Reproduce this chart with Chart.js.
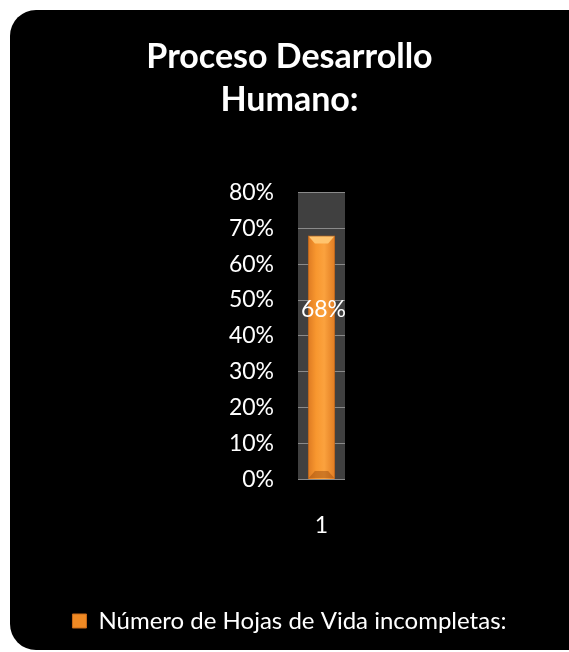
<!DOCTYPE html>
<html>
<head>
<meta charset="utf-8">
<script src="https://cdn.jsdelivr.net/npm/chart.js@4"></script>
<style>
  html, body { margin: 0; padding: 0; background: #fff; overflow: hidden; }
  #card {
    position: absolute; left: 10px; top: 10px;
    width: 590px; height: 640px;
    background: #000; border-radius: 26px; overflow: hidden;
  }
  #chart { position: absolute; left: 0; top: 0; }
</style>
</head>
<body>
<div id="card"><canvas id="chart" width="559" height="640"></canvas></div>
<script>
"use strict";

// ========== DATA ========== //
const categories = ['1'];
const seriesLabel = 'Número de Hojas de Vida incompletas:';
const seriesValues = [68]; // percent
const yMin = 0;
const yMax = 80;
const yStep = 10;

const FONT = 'Lato, "Open Sans", sans-serif';

// gray plot background
const plotBackground = {
  id: 'plotBackground',
  beforeDraw(chart) {
    let {ctx, chartArea: a} = chart;
    ctx.save();
    ctx.fillStyle = '#404040';
    ctx.fillRect(a.left, a.top, a.right - a.left, a.bottom - a.top);
    ctx.restore();
  }
};

// bevel on the bar top + value label
const valueLabel = {
  id: 'valueLabel',
  afterDatasetsDraw(chart) {
    let ctx = chart.ctx;
    let meta = chart.getDatasetMeta(0);
    ctx.save();
    meta.data.forEach((bar, i) => {
      let l = bar.x - bar.width / 2, r = bar.x + bar.width / 2;
      // light chamfer at the top of the bar
      ctx.fillStyle = '#FFC46E';
      ctx.beginPath();
      ctx.moveTo(l + 1, bar.y + 1);
      ctx.lineTo(r - 1, bar.y + 1);
      ctx.lineTo(r - 7, bar.y + 8);
      ctx.lineTo(l + 7, bar.y + 8);
      ctx.closePath();
      ctx.fill();
      // darker chamfer at the base
      ctx.fillStyle = 'rgba(150,70,10,0.45)';
      ctx.beginPath();
      ctx.moveTo(l + 1, bar.base - 1);
      ctx.lineTo(r - 1, bar.base - 1);
      ctx.lineTo(r - 7, bar.base - 8);
      ctx.lineTo(l + 7, bar.base - 8);
      ctx.closePath();
      ctx.fill();

      ctx.fillStyle = '#ffffff';
      ctx.font = '23px ' + FONT;
      ctx.textAlign = 'center';
      ctx.textBaseline = 'middle';
      ctx.fillText(seriesValues[i] + '%', bar.x + 2, bar.y + 74);
    });
    ctx.restore();
  }
};

function barGradient(context) {
  let chart = context.chart;
  let xs = chart.scales && chart.scales.x;
  if (!chart.chartArea || !xs) return '#F3922E';
  let cx = xs.getPixelForValue(context.dataIndex || 0);
  if (!isFinite(cx)) return '#F3922E';
  let w = 27;
  let g = chart.ctx.createLinearGradient(cx - w / 2, 0, cx + w / 2, 0);
  g.addColorStop(0, '#DD7A22');
  g.addColorStop(0.3, '#F8972F');
  g.addColorStop(0.6, '#FBA23E');
  g.addColorStop(1, '#E07C22');
  return g;
}

let chartContainer = document.querySelector('#chart');
let chart = new Chart(chartContainer, {
  type: 'bar',
  data: {
    labels: categories,
    datasets: [{
      label: seriesLabel,
      data: seriesValues,
      backgroundColor: barGradient,
      borderColor: '#C86A1A',
      borderWidth: 1,
      barPercentage: 0.58,
      categoryPercentage: 1
    }]
  },
  options: {
    responsive: false,
    animation: false,
    layout: { padding: { bottom: 7 } },
    plugins: {
      title: {
        display: true,
        text: ['Proceso Desarrollo', 'Humano:'],
        color: '#ffffff',
        font: { family: FONT, size: 34, weight: 'bold', lineHeight: 1.27 },
        padding: { top: 25, bottom: 71 }
      },
      legend: {
        display: true,
        position: 'bottom',
        labels: {
          color: '#ffffff',
          font: { family: FONT, size: 24 },
          boxWidth: 14,
          boxHeight: 14,
          padding: 6,
          generateLabels(c) {
            return [{
              text: seriesLabel,
              fillStyle: '#F08A24',
              strokeStyle: '#C86A1A',
              lineWidth: 1,
              fontColor: '#ffffff',
              datasetIndex: 0
            }];
          }
        }
      },
      tooltip: { enabled: false }
    },
    scales: {
      x: {
        grid: { display: false },
        border: { display: false },
        afterFit(scale) { scale.height += 40; },
        ticks: { color: '#ffffff', font: { family: FONT, size: 23 }, padding: 24 }
      },
      y: {
        min: yMin,
        max: yMax,
        afterFit(scale) { scale.width = 288; },
        grid: { color: '#8a8a8a', lineWidth: 1, drawTicks: false },
        border: { display: false },
        ticks: {
          stepSize: yStep,
          color: '#ffffff',
          font: { family: FONT, size: 23 },
          padding: 24,
          callback: v => v + '%'
        }
      },
      // empty right axis that only reserves space
      yRight: {
        position: 'right',
        afterFit(scale) { scale.width = 224; },
        grid: { display: false },
        border: { display: false },
        ticks: { display: false }
      }
    }
  },
  plugins: [plotBackground, valueLabel]
});
</script>
</body>
</html>
